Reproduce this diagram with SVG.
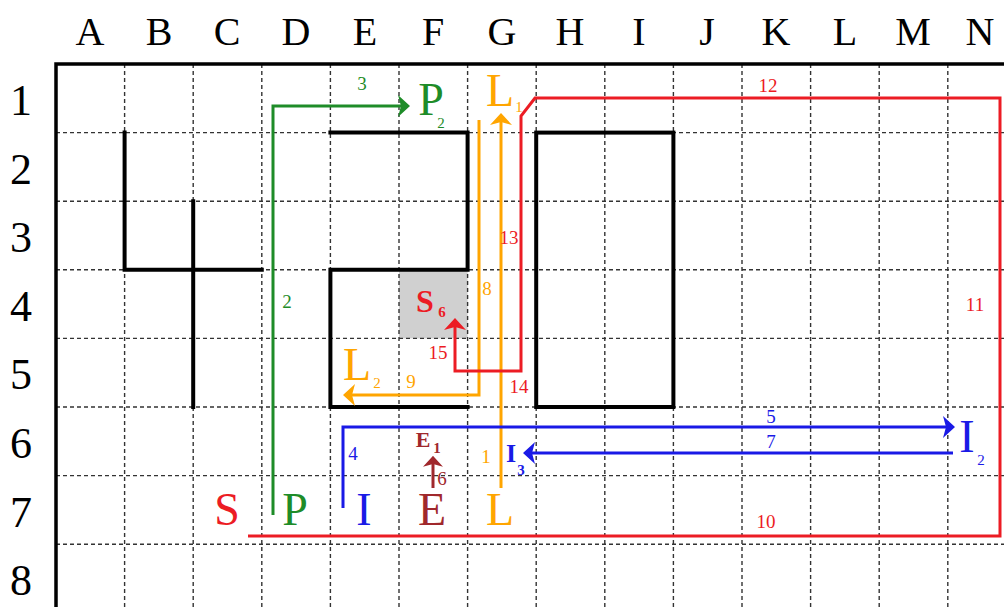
<svg xmlns="http://www.w3.org/2000/svg" width="1004" height="607" viewBox="0 0 1004 607">
<defs>
<style>
.grid{stroke:#333;stroke-width:1.4;stroke-dasharray:4 3;fill:none}
.wall{stroke:#000;stroke-width:4;fill:none;stroke-linecap:square}
.border{stroke:#000;stroke-width:3.5;fill:none}
text{font-family:"Liberation Serif","Times New Roman",serif}
.hdr{font-size:40px;fill:#000;text-anchor:middle}
.row{font-size:44px;fill:#000;text-anchor:middle}
.big{font-size:46px;text-anchor:middle}
.num{font-size:19px;text-anchor:middle}
.sub{font-size:15px;text-anchor:middle}
.bold{font-weight:bold}
.conn{fill:none;stroke-width:3;stroke-linejoin:miter}
.g{fill:#1e8c28}.gs{stroke:#1e8c28}
.o{fill:#ffa500}.os{stroke:#ffa500}
.r{fill:#ec1c24}.rs{stroke:#ec1c24}
.b{fill:#1a1ae6}.bs{stroke:#1a1ae6}
.br{fill:#a0282c}.brs{stroke:#a0282c}
</style>
<marker id="ag" viewBox="0 0 12 22" refX="3" refY="11" markerWidth="12" markerHeight="22" markerUnits="userSpaceOnUse" orient="auto"><path d="M0,0 L12,11 L0,22 L3,11 z" fill="#1e8c28"/></marker>
<marker id="ao" viewBox="0 0 12 22" refX="3" refY="11" markerWidth="12" markerHeight="22" markerUnits="userSpaceOnUse" orient="auto"><path d="M0,0 L12,11 L0,22 L3,11 z" fill="#ffa500"/></marker>
<marker id="ar" viewBox="0 0 12 22" refX="3" refY="11" markerWidth="12" markerHeight="22" markerUnits="userSpaceOnUse" orient="auto"><path d="M0,0 L12,11 L0,22 L3,11 z" fill="#ec1c24"/></marker>
<marker id="ab" viewBox="0 0 12 22" refX="3" refY="11" markerWidth="12" markerHeight="22" markerUnits="userSpaceOnUse" orient="auto"><path d="M0,0 L12,11 L0,22 L3,11 z" fill="#1a1ae6"/></marker>
<marker id="abr" viewBox="0 0 12 22" refX="3" refY="11" markerWidth="11" markerHeight="20" markerUnits="userSpaceOnUse" orient="auto"><path d="M0,0 L12,11 L0,22 L3,11 z" fill="#a0282c"/></marker>
</defs>
<rect width="1004" height="607" fill="#fff"/>

<g id="headers">
<text class="hdr" x="90" y="45">A</text>
<text class="hdr" x="159" y="45">B</text>
<text class="hdr" x="227" y="45">C</text>
<text class="hdr" x="296" y="45">D</text>
<text class="hdr" x="365" y="45">E</text>
<text class="hdr" x="433" y="45">F</text>
<text class="hdr" x="502" y="45">G</text>
<text class="hdr" x="570" y="45">H</text>
<text class="hdr" x="639" y="45">I</text>
<text class="hdr" x="707" y="45">J</text>
<text class="hdr" x="776" y="45">K</text>
<text class="hdr" x="845" y="45">L</text>
<text class="hdr" x="913" y="45">M</text>
<text class="hdr" x="980" y="45">N</text>
<text class="row" x="21" y="115">1</text>
<text class="row" x="21" y="184">2</text>
<text class="row" x="21" y="252">3</text>
<text class="row" x="21" y="321">4</text>
<text class="row" x="21" y="389">5</text>
<text class="row" x="21" y="458">6</text>
<text class="row" x="21" y="527">7</text>
<text class="row" x="21" y="595">8</text>
</g>

<g id="grid">
<rect x="399" y="269.8" width="68.6" height="68.6" fill="#d0d0d0"/>
<path class="grid" d="M124.6,64V607M193.2,64V607M261.8,64V607M330.4,64V607M399,64V607M467.6,64V607M536.2,64V607M604.8,64V607M673.4,64V607M742,64V607M810.6,64V607M879.2,64V607M947.8,64V607"/>
<path class="grid" d="M56,132.6H1004M56,201.2H1004M56,269.8H1004M56,338.4H1004M56,407H1004M56,475.6H1004M56,544.2H1004"/>
<path class="border" d="M56,607V64H1004"/>
</g>

<g id="walls">
<path class="wall" d="M124.6,132.6V269.8H261.8"/>
<path class="wall" d="M193.2,201.2V407"/>
<path class="wall" d="M330.4,132.6H467.6V269.8H330.4V407H467.6"/>
<rect class="wall" x="536.2" y="132.6" width="137.2" height="274.4"/>
</g>

<g id="connectors">
<path class="conn gs" d="M273,515V106H401" marker-end="url(#ag)"/>
<path class="conn os" d="M501,488V122" marker-end="url(#ao)"/>
<path class="conn os" d="M479,120V395H352" marker-end="url(#ao)"/>
<path class="conn rs" d="M248,536H1000V98H535L521,116V371H455V327" marker-end="url(#ar)"/>
<path class="conn bs" d="M343,508V427H946" marker-end="url(#ab)"/>
<path class="conn bs" d="M953,453H532" marker-end="url(#ab)"/>
<path class="conn brs" d="M433,488V464" marker-end="url(#abr)"/>
</g>

<g id="connector-labels">
<text class="num g" x="287" y="308">2</text>
<text class="num g" x="362" y="90">3</text>
<text class="num o" x="486" y="463">1</text>
<text class="num o" x="487" y="295">8</text>
<text class="num o" x="411" y="388">9</text>
<text class="num b" x="353" y="460">4</text>
<text class="num b" x="771" y="423">5</text>
<text class="num b" x="771" y="448">7</text>
<text class="num br" x="442" y="485">6</text>
<text class="num r" x="766" y="528">10</text>
<text class="num r" x="975" y="311">11</text>
<text class="num r" x="768" y="92">12</text>
<text class="num r" x="509" y="244">13</text>
<text class="num r" x="519" y="393">14</text>
<text class="num r" x="438" y="359">15</text>
</g>

<g id="node-S"><text class="big r" x="227" y="525">S</text></g>
<g id="node-P"><text class="big g" x="295" y="525">P</text></g>
<g id="node-I"><text class="big b" x="364" y="525">I</text></g>
<g id="node-E"><text class="big br" x="432" y="525">E</text></g>
<g id="node-L"><text class="big o" x="500" y="525">L</text></g>
<g id="node-P2"><text class="big g" x="431" y="115">P</text><text class="sub g" x="441" y="128">2</text></g>
<g id="node-L1"><text class="big o" x="500" y="106">L</text><text class="sub o" x="519" y="112">1</text></g>
<g id="node-L2"><text class="big o" x="357" y="380">L</text><text class="sub o" x="377" y="388">2</text></g>
<g id="node-I2"><text class="big b" x="967" y="452">I</text><text class="sub b" x="981" y="465">2</text></g>
<g id="node-I3"><text class="bold b" style="font-size:26px" x="511" y="462" text-anchor="middle">I</text><text class="sub bold b" x="521" y="475">3</text></g>
<g id="node-E1"><text class="bold br" style="font-size:22px" x="423" y="447" text-anchor="middle">E</text><text class="sub bold br" x="437" y="453">1</text></g>
<g id="node-S6"><text class="bold r" style="font-size:32px" x="425" y="312" text-anchor="middle">S</text><text class="sub bold r" x="442" y="317">6</text></g>
</svg>
